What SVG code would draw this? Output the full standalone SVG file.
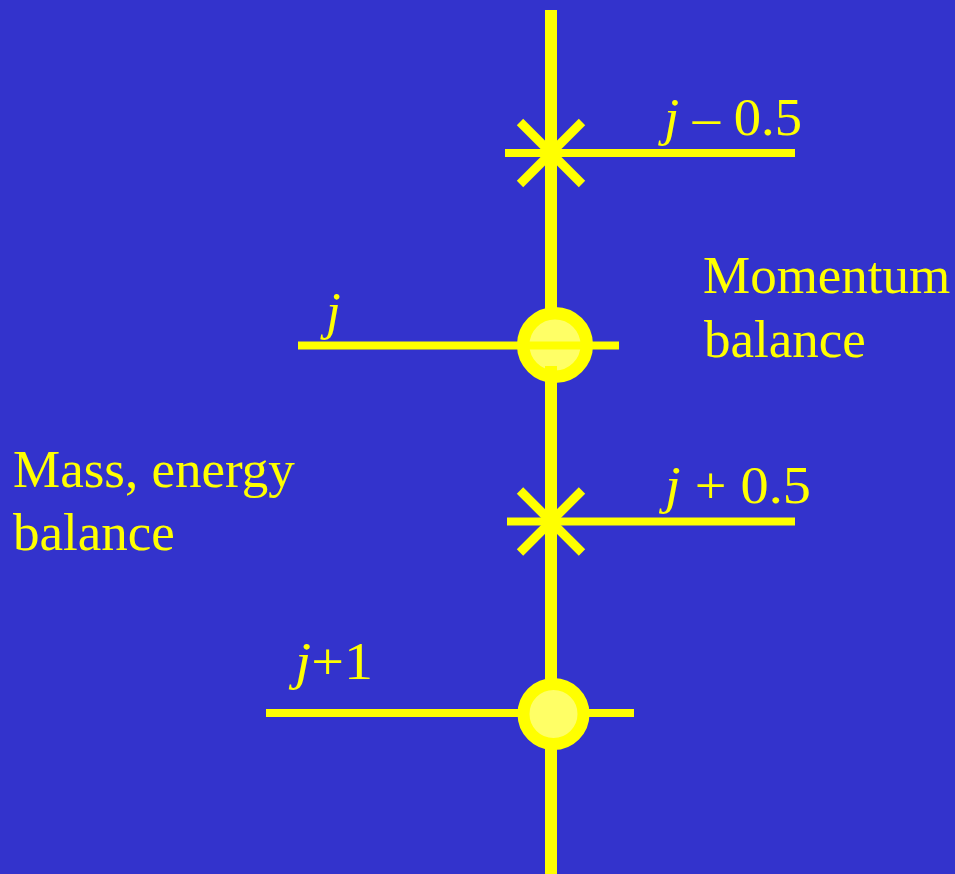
<svg xmlns="http://www.w3.org/2000/svg" width="955" height="874" viewBox="0 0 955 874">
<style>
.ln{stroke:#FFFF00;fill:none;stroke-linecap:butt}
.h{stroke-width:8}
.x{stroke-width:9}
.ring{stroke:#FFFF00;fill:#FFFF66}
.t{font-family:"Liberation Serif","Times New Roman",serif;font-size:53px;fill:#FFFF00}
.i{font-style:italic}
</style>
<rect x="0" y="0" width="955" height="874" fill="#3333CC"/>
<g id="connectors">
<line id="spine" class="ln" x1="551" y1="10" x2="551" y2="874" stroke-width="12"/>
</g>
<g id="node-j-minus-half">
<line class="ln h" x1="505" y1="153" x2="795" y2="153"/>
<line class="ln x" x1="520" y1="122" x2="582" y2="184"/>
<line class="ln x" x1="582" y1="122" x2="520" y2="184"/>
<text class="t" x="664" y="135" textLength="138" lengthAdjust="spacingAndGlyphs"><tspan class="i">j</tspan> – 0.5</text>
</g>
<g id="node-j">
<circle class="ring" cx="555" cy="345" r="31.8" stroke-width="12.5"/>
<line class="ln h" x1="298" y1="345.5" x2="619" y2="345.5"/>
<line class="ln" x1="551" y1="366" x2="551" y2="384" stroke-width="12"/>
<text class="t i" x="326" y="329">j</text>
</g>
<g id="node-j-plus-half">
<line class="ln h" x1="507" y1="521.5" x2="795" y2="521.5"/>
<line class="ln x" x1="520" y1="490.5" x2="582" y2="552.5"/>
<line class="ln x" x1="582" y1="490.5" x2="520" y2="552.5"/>
<text class="t" x="665" y="502.5" textLength="146" lengthAdjust="spacingAndGlyphs"><tspan class="i">j</tspan> + 0.5</text>
</g>
<g id="node-j-plus-1">
<line class="ln h" x1="266" y1="713" x2="634" y2="713"/>
<circle class="ring" cx="553.5" cy="714" r="30" stroke-width="12"/>
<text class="t" x="295" y="678.5" textLength="78" lengthAdjust="spacingAndGlyphs"><tspan class="i">j</tspan>+1</text>
</g>
<g id="label-momentum">
<text class="t" x="703" y="293">Momentum</text>
<text class="t" x="704" y="357">balance</text>
</g>
<g id="label-mass">
<text class="t" x="13" y="486.5">Mass, energy</text>
<text class="t" x="13" y="550">balance</text>
</g>
</svg>
